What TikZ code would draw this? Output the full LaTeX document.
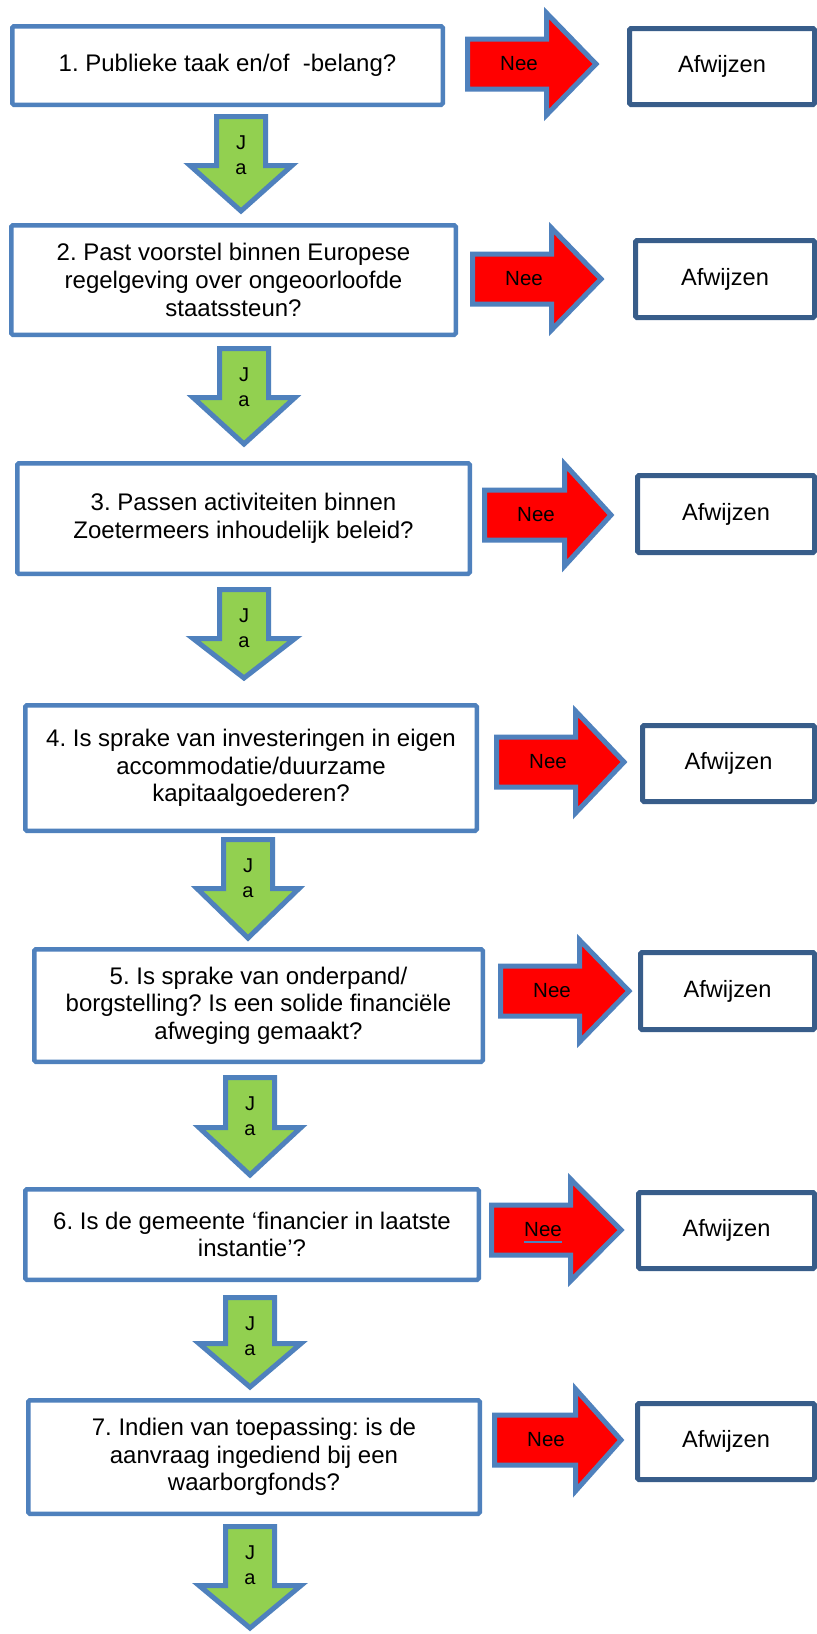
\documentclass[tikz,border=0pt]{standalone}
\usepackage{fontspec}
\setmainfont{Liberation Sans}
\frenchspacing
\definecolor{bordblue}{HTML}{4F81BD}
\definecolor{darkblue}{HTML}{385D8A}
\definecolor{jagreen}{HTML}{92D050}
\newcommand\neearrow[5]{% name, left, head base, tip, y centre
  \draw[redarr] (#2+2.5,#5-25) -- (#3+2.5,#5-25) -- (#3+2.5,#5-51) -- (#4-4,#5)
    -- (#3+2.5,#5+51) -- (#3+2.5,#5+25) -- (#2+2.5,#5+25) -- cycle;
  \node[lbl] (#1) at (#2+54,#5) {Nee};
}
\newcommand\jaarrow[5]{% name, centre x, shaft top, wing y, tip y
  \draw[greenarr] (#2-24.5,#3+2.5) -- (#2+24.5,#3+2.5) -- (#2+24.5,#4+2.5) -- (#2+51,#4+2.5)
    -- (#2,#5-4) -- (#2-51,#4+2.5) -- (#2-24.5,#4+2.5) -- cycle;
  \node[jalbl] (#1) at (#2,#3+41) {J\\a};
}
\begin{document}
\begin{tikzpicture}[x=1pt,y=-1pt,
  qbox/.style={draw=bordblue, line width=4.5pt, fill=white, rounded corners=1.5pt,
    align=center, inner sep=0pt, font=\fontsize{24}{27.6}\selectfont},
  rejbox/.style={draw=darkblue, line width=5pt, fill=white, rounded corners=1.5pt,
    inner sep=0pt, font=\fontsize{23.6}{27.6}\selectfont},
  redarr/.style={draw=bordblue, line width=5pt, fill=red, line join=miter},
  greenarr/.style={draw=bordblue, line width=5pt, fill=jagreen, line join=miter},
  lbl/.style={inner sep=0pt, font=\fontsize{20.5}{24}\selectfont},
  jalbl/.style={inner sep=0pt, align=center, font=\fontsize{20}{25}\selectfont},
  uline/.style={draw=bordblue, line width=2pt}]
\useasboundingbox (0,0) rectangle (817,1634);
\fill[white] (0,0) rectangle (817,1634);

% question boxes
\node[qbox, minimum width=430.5pt, minimum height=78.5pt] (q1) at (227.5,65.5)
  {1. Publieke taak en/of\ \ -belang?};
\node[qbox, minimum width=444.5pt, minimum height=109.5pt] (q2) at (233.5,280)
  {2. Past voorstel binnen Europese\\regelgeving over ongeoorloofde\\staatssteun?};
\node[qbox, minimum width=452.5pt, minimum height=110.5pt] (q3) at (243.5,518.5)
  {3. Passen activiteiten binnen\\Zoetermeers inhoudelijk beleid?};
\node[qbox, minimum width=451.5pt, minimum height=125.5pt] (q4) at (251,768)
  {4. Is sprake van investeringen in eigen\\accommodatie/duurzame\\kapitaalgoederen?};
\node[qbox, minimum width=448.5pt, minimum height=112.5pt] (q5) at (258.5,1005.5)
  {5. Is sprake van onderpand/\\borgstelling? Is een solide financiële\\afweging gemaakt?};
\node[qbox, minimum width=453.5pt, minimum height=90.5pt] (q6) at (252,1234.5)
  {6. Is de gemeente ‘financier in laatste\\instantie’?};
\node[qbox, minimum width=451.5pt, minimum height=113.5pt] (q7) at (254,1457)
  {7. Indien van toepassing: is de\\aanvraag ingediend bij een\\waarborgfonds?};

% reject boxes
\node[rejbox, minimum width=185pt, minimum height=76pt] (a1) at (722,66.5) {Afwijzen};
\node[rejbox, minimum width=179pt, minimum height=77pt] (a2) at (725,279) {Afwijzen};
\node[rejbox, minimum width=177pt, minimum height=77pt] (a3) at (726,514) {Afwijzen};
\node[rejbox, minimum width=172pt, minimum height=76pt] (a4) at (728.5,763.5) {Afwijzen};
\node[rejbox, minimum width=174pt, minimum height=77pt] (a5) at (727.5,991) {Afwijzen};
\node[rejbox, minimum width=176pt, minimum height=76pt] (a6) at (726.5,1230.5) {Afwijzen};
\node[rejbox, minimum width=177pt, minimum height=76pt] (a7) at (726,1441.5) {Afwijzen};

% red "Nee" arrows
\neearrow{nee1}{465}{544}{600}{64}
\neearrow{nee2}{470}{549}{605}{279}
\neearrow{nee3}{482}{562}{615}{515}
\neearrow{nee4}{494}{573}{628}{762}
\neearrow{nee5}{498}{577}{633}{991}
\neearrow{nee6}{489}{568}{625}{1230}
\neearrow{nee7}{492}{573}{625}{1440}
\draw[uline] ([yshift=-5pt]nee6.base west) -- ([yshift=-5pt]nee6.base east);

% green "Ja" arrows
\jaarrow{ja1}{241}{114}{163}{215}
\jaarrow{ja2}{244}{346}{395}{448}
\jaarrow{ja3}{244}{587}{636}{682}
\jaarrow{ja4}{248}{837}{886}{942}
\jaarrow{ja5}{250}{1075}{1125}{1179}
\jaarrow{ja6}{250}{1295}{1341}{1391}
\jaarrow{ja7}{250}{1524}{1583}{1632}
\end{tikzpicture}
\end{document}
